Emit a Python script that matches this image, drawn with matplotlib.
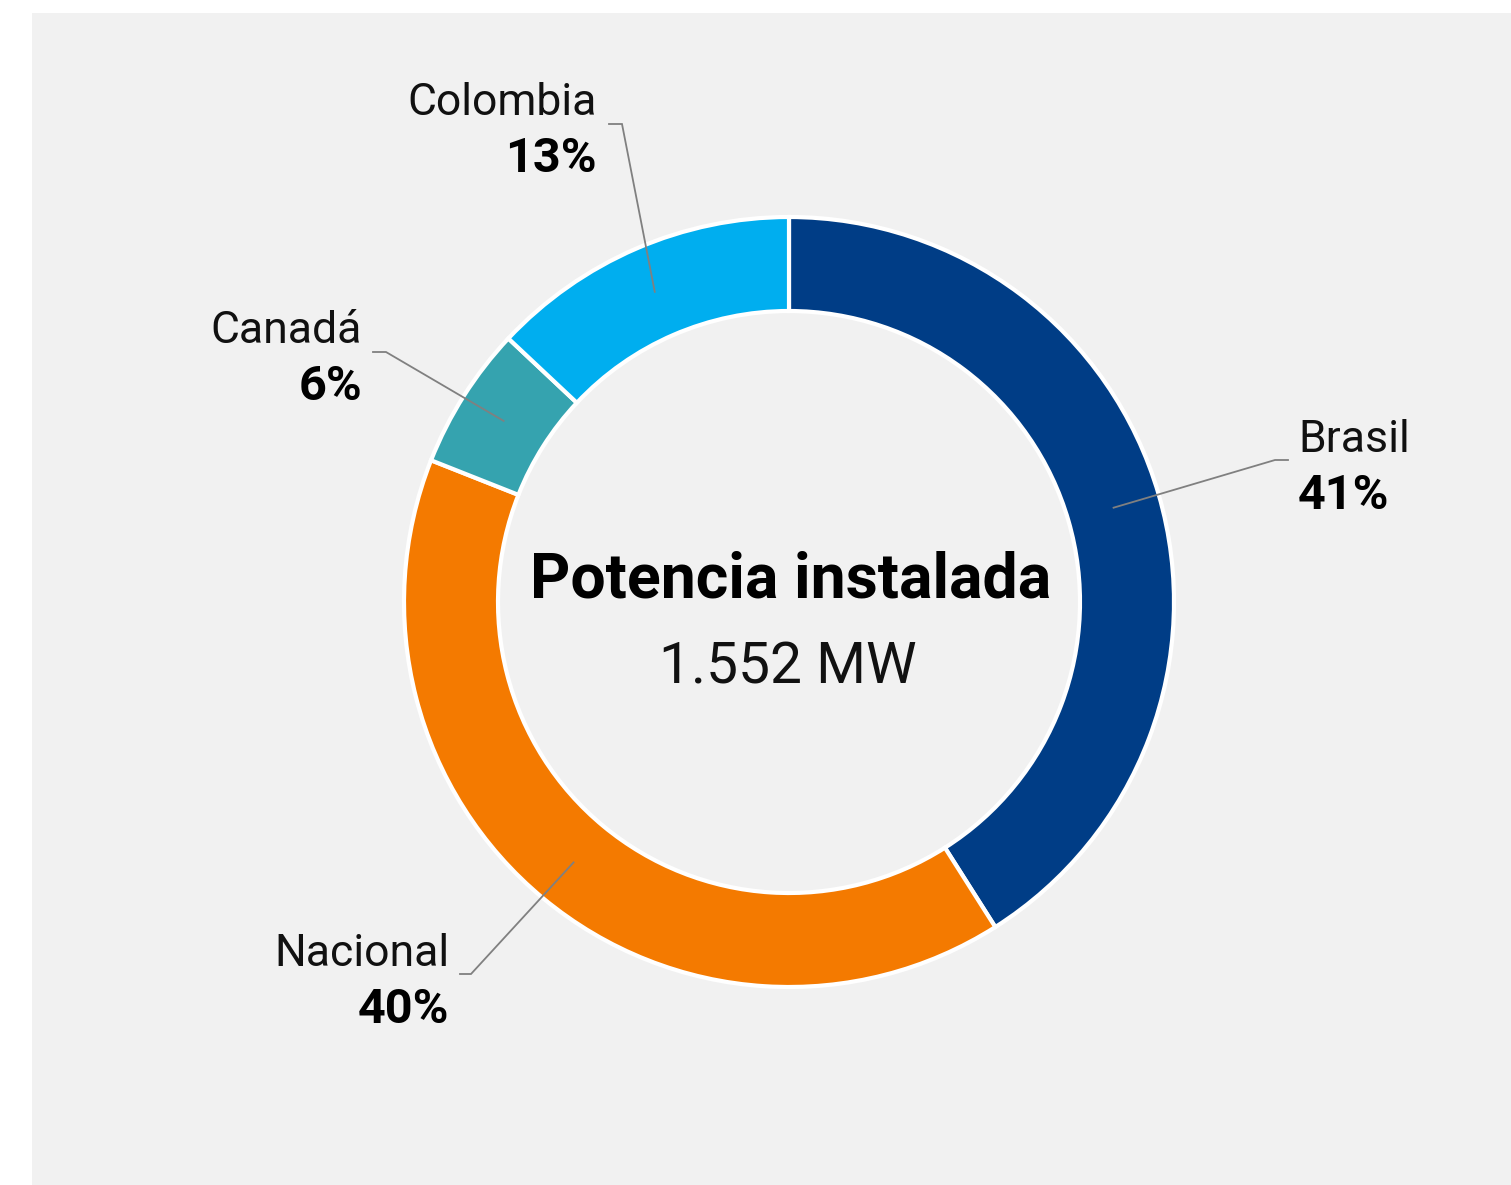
import numpy as np
import matplotlib
matplotlib.use("Agg")
import matplotlib.pyplot as plt
from matplotlib.patches import Rectangle

plt.rcParams['font.family'] = ['Roboto', 'DejaVu Sans']

# data (clockwise from 12 o'clock)
regions = ["Brasil", "Nacional", "Canadá", "Colombia"]
shares = [41, 40, 6, 13]
colors = ["#003d86", "#f47a00", "#35a3af", "#00aeef"]
center_title = "Potencia instalada"
center_value = "1.552 MW"

# label layout in pixel space (top-left origin): text x, first baseline y, alignment,
# elbow point of the leader line
label_pos = {
    "Brasil":   (1298, 452, "left",  (1275, 460), (1288, 460)),
    "Nacional": (449, 966, "right",  (471, 974), (460, 974)),
    "Canadá":   (362, 343, "right",  (386, 352), (373, 352)),
    "Colombia": (597, 115, "right",  (622, 124), (609, 124)),
}

W, H = 1511, 1185
CX, CY = 789, 602
R_OUT, R_IN = 385, 291


def fy(y):
    # pixel row -> data y
    return H - y


fig = plt.figure(figsize=(W / 100, H / 100), dpi=100)
fig.patch.set_facecolor("white")
ax = fig.add_axes([0, 0, 1, 1])

ax.add_patch(Rectangle((32, 0), W - 32, H - 13, facecolor="#f1f1f1", edgecolor="none", zorder=0))

wedges, _ = ax.pie(shares, colors=colors, startangle=90, counterclock=False,
                   radius=R_OUT, center=(CX, fy(CY)), frame=True,
                   wedgeprops=dict(width=R_OUT - R_IN, edgecolor="white", linewidth=3))
ax.set_xlim(0, W)
ax.set_ylim(0, H)
ax.set_aspect("equal")
ax.axis("off")

r_mid = (R_OUT + R_IN) / 2
for w, name, val in zip(wedges, regions, shares):
    ang = np.deg2rad((w.theta1 + w.theta2) / 2)
    ax0 = CX + r_mid * np.cos(ang)
    ay0 = fy(CY) + r_mid * np.sin(ang)
    tx, ty, ha, elbow, end = label_pos[name]
    ax.plot([ax0, elbow[0], end[0]], [ay0, fy(elbow[1]), fy(end[1])],
            color="#808080", lw=1.3, zorder=3, solid_joinstyle="miter")
    ax.text(tx, fy(ty), name, ha=ha, va="baseline", fontsize=32, color="#111111")
    ax.text(tx, fy(ty + 57), f"{val}%", ha=ha, va="baseline", fontsize=35,
            fontweight="bold", color="#000000")

ax.text(791, fy(598), center_title, ha="center", va="baseline", fontsize=45,
        fontweight="bold", color="#000000")
ax.text(788, fy(684), center_value, ha="center", va="baseline", fontsize=41,
        color="#111111")

fig.savefig("out.png", dpi=100, facecolor=fig.get_facecolor())
